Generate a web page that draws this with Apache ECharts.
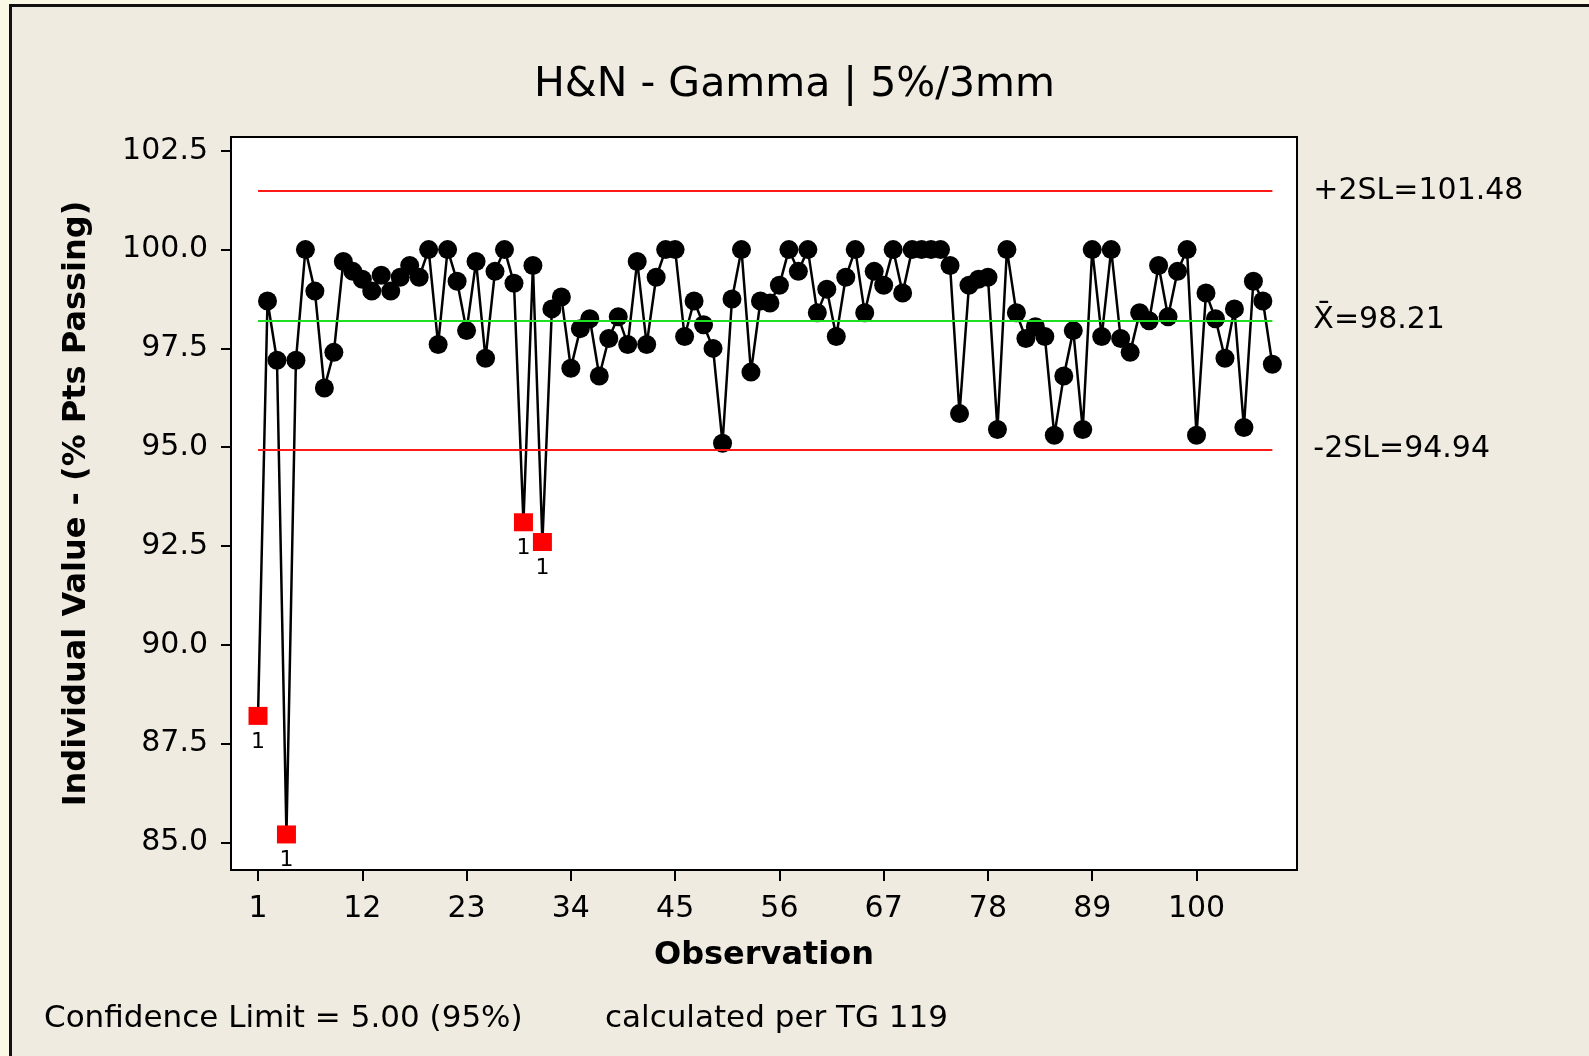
<!DOCTYPE html>
<html>
<head>
<meta charset="utf-8">
<title>H&N - Gamma | 5%/3mm</title>
<script src="https://cdn.jsdelivr.net/npm/echarts@6/dist/echarts.min.js"></script>
<style>
html, body { margin: 0; padding: 0; background: #FBF8E6; overflow: hidden; }
#frame { position: absolute; left: 9px; top: 4px; width: 1600px; height: 1070px;
         background: #EFEBE1; border-left: 3px solid #111; border-top: 3px solid #111; }
#chartmain { position: absolute; left: 0; top: 0; width: 1589px; height: 1056px; }
</style>
</head>
<body>
<div id="frame"></div>
<div id="chartmain"></div>
<script>
// % pts passing, one value per observation (1..108)
var values = [
	88.2, 98.7, 97.2, 85.2, 97.2, 100.0, 98.95, 96.5, 97.4, 99.7,
	99.45, 99.25, 98.95, 99.35, 98.95, 99.3, 99.6, 99.3, 100.0, 97.6,
	100.0, 99.2, 97.95, 99.7, 97.25, 99.45, 100.0, 99.15, 93.1, 99.6,
	92.6, 98.5, 98.8, 97.0, 98.0, 98.25, 96.8, 97.75, 98.3, 97.6,
	99.7, 97.6, 99.3, 100.0, 100.0, 97.8, 98.7, 98.1, 97.5, 95.1,
	98.75, 100.0, 96.9, 98.7, 98.65, 99.1, 100.0, 99.45, 100.0, 98.4,
	99.0, 97.8, 99.3, 100.0, 98.4, 99.45, 99.1, 100.0, 98.9, 100.0,
	100.0, 100.0, 100.0, 99.6, 95.85, 99.1, 99.25, 99.3, 95.45, 100.0,
	98.4, 97.75, 98.05, 97.8, 95.3, 96.8, 97.95, 95.45, 100.0, 97.8,
	100.0, 97.75, 97.4, 98.4, 98.2, 99.6, 98.3, 99.45, 100.0, 95.3,
	98.9, 98.25, 97.25, 98.5, 95.5, 99.2, 98.7, 97.1
];
var ucl = 101.48;
var mean = 98.21;
var lcl = 94.94;
var limitNames = ['+2SL=101.48', 'X\u0304=98.21', '-2SL=94.94'];
var xTicks = [1, 12, 23, 34, 45, 56, 67, 78, 89, 100];
var yTicks = [85, 87.5, 90, 92.5, 95, 97.5, 100, 102.5];

var FONT = 'DejaVu Sans';

var myChart = echarts.init(document.getElementById('chartmain'));

var points = values.map(function (v, i) { return [i + 1, v]; });
var inside = points.filter(function (p) { return p[1] >= lcl && p[1] <= ucl; });
var outside = points.filter(function (p) { return p[1] < lcl || p[1] > ucl; });
var lastObs = values.length;

function limitLine(y, name, color) {
	return [
		{ coord: [1, y], name: name, lineStyle: { color: color, width: 2, type: 'solid' } },
		{ coord: [lastObs, y] }
	];
}

var option = {
	backgroundColor: 'transparent',
	animation: false,
	title: {
		text: 'H&N - Gamma | 5%/3mm',
		left: 'center',
		top: 60,
		textStyle: { fontFamily: FONT, fontSize: 41, fontWeight: 'normal', color: '#000' }
	},
	grid: {
		left: 231, right: 292, top: 137, bottom: 186,
		show: true, backgroundColor: '#fff', borderColor: '#000', borderWidth: 2
	},
	xAxis: {
		type: 'value',
		min: -1.85,
		max: 110.6,
		name: 'Observation',
		nameLocation: 'middle',
		nameGap: 70,
		nameTextStyle: { fontFamily: FONT, fontSize: 32, fontWeight: 'bold', color: '#000' },
		axisLine: { show: true, onZero: false, lineStyle: { color: '#000', width: 2 } },
		axisTick: { show: true, length: 11, customValues: xTicks, lineStyle: { color: '#000', width: 2 } },
		axisLabel: { customValues: xTicks, margin: 24, fontFamily: FONT, fontSize: 30, color: '#000' },
		splitLine: { show: false }
	},
	yAxis: {
		type: 'value',
		min: 84.3,
		max: 102.85,
		name: 'Individual Value - (% Pts Passing)',
		nameLocation: 'middle',
		nameGap: 138,
		nameTextStyle: { fontFamily: FONT, fontSize: 32, fontWeight: 'bold', color: '#000' },
		axisLine: { show: true, onZero: false, lineStyle: { color: '#000', width: 2 } },
		axisTick: { show: true, length: 10, customValues: yTicks, lineStyle: { color: '#000', width: 2 } },
		axisLabel: {
			customValues: yTicks, margin: 23, fontFamily: FONT, fontSize: 30, color: '#000',
			formatter: function (v) { return v.toFixed(1); }
		},
		splitLine: { show: false }
	},
	series: [
		{
			name: 'trace',
			type: 'line',
			data: points,
			symbol: 'none',
			lineStyle: { color: '#000', width: 2.5 },
			z: 2,
			markLine: {
				silent: true,
				symbol: ['none', 'none'],
				label: {
					show: true, position: 'end', distance: 41,
					formatter: function (p) { return p.name; },
					fontFamily: FONT, fontSize: 30, color: '#000'
				},
				data: [
					limitLine(ucl, limitNames[0], '#FF1A1A'),
					limitLine(mean, limitNames[1], '#1EE01E'),
					limitLine(lcl, limitNames[2], '#FF1A1A')
				]
			}
		},
		{
			name: 'in control',
			type: 'scatter',
			data: inside,
			symbol: 'circle',
			symbolSize: 19,
			itemStyle: { color: '#000', opacity: 1 },
			z: 3
		},
		{
			name: 'out of control',
			type: 'scatter',
			data: outside,
			symbol: 'rect',
			symbolSize: [19, 18],
			itemStyle: { color: '#FF0000', opacity: 1 },
			label: {
				show: true, position: 'bottom', distance: 6,
				formatter: '1', fontFamily: FONT, fontSize: 22, color: '#000'
			},
			z: 4
		}
	],
	graphic: [
		{
			type: 'text', left: 44, top: 1003,
			style: { text: 'Confidence Limit = 5.00 (95%)', font: '31px "DejaVu Sans"', fill: '#000' }
		},
		{
			type: 'text', left: 605, top: 1003,
			style: { text: 'calculated per TG 119', font: '31px "DejaVu Sans"', fill: '#000' }
		}
	]
};

myChart.setOption(option);
</script>
</body>
</html>
